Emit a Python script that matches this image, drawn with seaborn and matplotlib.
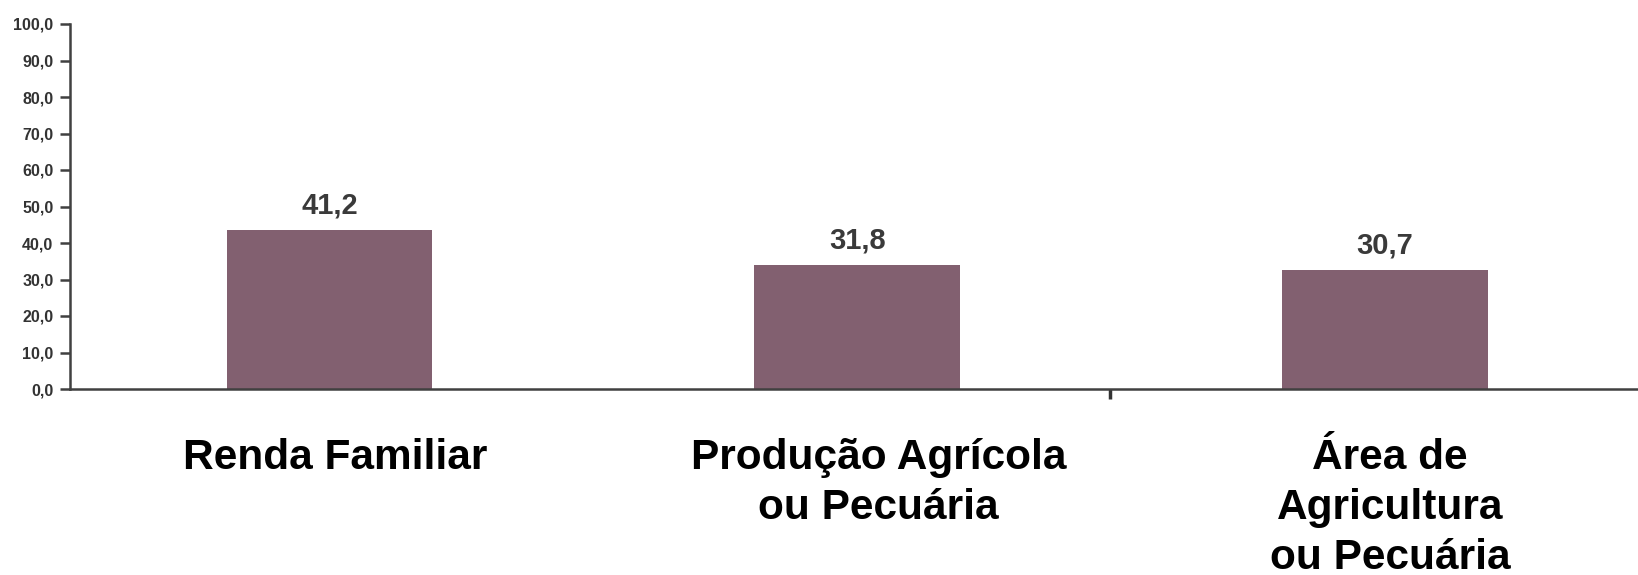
import matplotlib
matplotlib.use("Agg")
import matplotlib.pyplot as plt
import seaborn as sns
import pandas as pd

categories = ["Renda Familiar", "Produção Agrícola\nou Pecuária", "Área de\nAgricultura\nou Pecuária"]
bar_heights = [43.5, 33.9, 32.5]          # bar tops as drawn in the picture
value_labels = ["41,2", "31,8", "30,7"]   # value labels printed above bars
y_ticks = [0, 10, 20, 30, 40, 50, 60, 70, 80, 90, 100]
y_tick_labels = ["0,0", "10,0", "20,0", "30,0", "40,0", "50,0", "60,0", "70,0", "80,0", "90,0", "100,0"]

sns.set_style("white")
plt.rcParams['font.family'] = ['Liberation Sans', 'DejaVu Sans']

df = pd.DataFrame({"cat": categories, "val": bar_heights})

fig = plt.figure(figsize=(16.38, 5.75), dpi=100)
ax = fig.add_axes([70/1638, 1 - 389/575, 1 - 70/1638, (389 - 24)/575])

sns.barplot(data=df, x="cat", y="val", color="#826070", saturation=1,
            width=0.39, ax=ax, edgecolor="none")

ax.set_xlim(-0.492, 2.48)
ax.set_ylim(0, 100)
ax.set_xlabel("")
ax.set_ylabel("")

for i, (h, lab) in enumerate(zip(bar_heights, value_labels)):
    ax.annotate(lab, (i, h), xytext=(0, 8), textcoords="offset points",
                ha="center", va="bottom", fontsize=21, fontweight="bold",
                color="#3a3a3a")

ax.set_yticks(y_ticks)
ax.set_yticklabels(y_tick_labels, fontsize=11.5, fontweight="bold", color="#333333")
ax.tick_params(axis="y", direction="out", length=7, width=1.8, color="#404040",
               pad=5, left=True)

# category labels sit slightly right of the bar centres in the original
ax.set_xticks([0.01, 1.04, 2.01])
ax.set_xticklabels(categories, fontsize=30.5, fontweight="bold", color="black",
                   linespacing=1.33)
ax.tick_params(axis="x", which="major", length=0, pad=35)
ax.set_xticks([1.48], minor=True)
ax.tick_params(axis="x", which="minor", direction="out", length=7, width=2.5,
               color="#333333", bottom=True)

for s in ["top", "right"]:
    ax.spines[s].set_visible(False)
for s in ["left", "bottom"]:
    ax.spines[s].set_color("#404040")
    ax.spines[s].set_linewidth(1.8)

ax.grid(False)
fig.savefig("out.png", dpi=100)
